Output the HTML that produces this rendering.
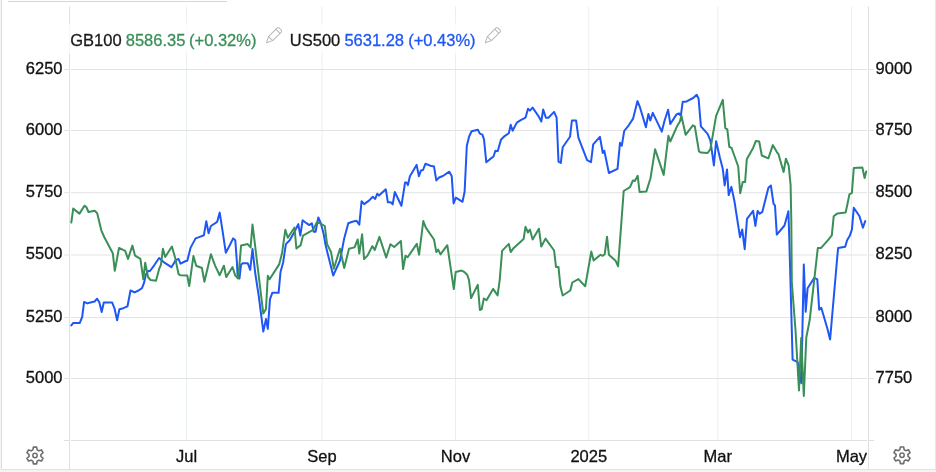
<!DOCTYPE html>
<html><head><meta charset="utf-8"><style>
html,body{-webkit-font-smoothing:antialiased;margin:0;padding:0;width:936px;height:472px;overflow:hidden;background:#f4f4f4;font-family:"Liberation Sans",sans-serif;}
</style></head><body>
<svg width="936" height="472" viewBox="0 0 936 472" style="position:absolute;left:0;top:0">
<rect x="0" y="0" width="936" height="472" fill="#f4f4f4"/>
<rect x="1" y="0" width="935" height="470" fill="#ffffff"/>
<rect x="1" y="0" width="1" height="470" fill="#dcdcdc"/>
<rect x="935" y="0" width="1" height="470" fill="#e6e6e6"/>
<rect x="1" y="469" width="935" height="1" fill="#e2e2e2"/>
<rect x="8" y="1" width="219" height="1" fill="#d4d6d8"/>
<rect x="186" y="6.5" width="1" height="433.5" fill="#e9f0f4"/>
<rect x="321.5" y="6.5" width="1" height="433.5" fill="#e9f0f4"/>
<rect x="455" y="6.5" width="1" height="433.5" fill="#e9f0f4"/>
<rect x="588.3" y="6.5" width="1" height="433.5" fill="#e9f0f4"/>
<rect x="717.3" y="6.5" width="1" height="433.5" fill="#e9f0f4"/>
<rect x="851" y="6.5" width="1" height="433.5" fill="#e9f0f4"/>
<rect x="71" y="69" width="796" height="1" fill="#e3e3e3"/>
<rect x="64" y="69" width="5" height="1" fill="#e3e3e3"/>
<rect x="869" y="69" width="5" height="1" fill="#e3e3e3"/>
<rect x="71" y="130" width="796" height="1" fill="#e3e3e3"/>
<rect x="64" y="130" width="5" height="1" fill="#e3e3e3"/>
<rect x="869" y="130" width="5" height="1" fill="#e3e3e3"/>
<rect x="71" y="192.2" width="796" height="1" fill="#e3e3e3"/>
<rect x="64" y="192.2" width="5" height="1" fill="#e3e3e3"/>
<rect x="869" y="192.2" width="5" height="1" fill="#e3e3e3"/>
<rect x="71" y="254.5" width="796" height="1" fill="#e3e3e3"/>
<rect x="64" y="254.5" width="5" height="1" fill="#e3e3e3"/>
<rect x="869" y="254.5" width="5" height="1" fill="#e3e3e3"/>
<rect x="71" y="317" width="796" height="1" fill="#e3e3e3"/>
<rect x="64" y="317" width="5" height="1" fill="#e3e3e3"/>
<rect x="869" y="317" width="5" height="1" fill="#e3e3e3"/>
<rect x="71" y="378" width="796" height="1" fill="#e3e3e3"/>
<rect x="64" y="378" width="5" height="1" fill="#e3e3e3"/>
<rect x="869" y="378" width="5" height="1" fill="#e3e3e3"/>
<rect x="69" y="6.5" width="1" height="463.5" fill="#e0e0e0"/>
<rect x="868" y="6.5" width="1" height="463.5" fill="#e0e0e0"/>
<rect x="64" y="440" width="5" height="1" fill="#e0e0e0"/>
<rect x="71" y="440" width="796" height="1" fill="#e0e0e0"/>
<rect x="869" y="440" width="5" height="1" fill="#e0e0e0"/>
<polyline points="71.3,325.4 73.3,322.9 79.7,323.1 82.2,316.8 84.1,301.9 87.4,303.4 90.4,302.5 94.6,301.5 97.1,298.7 99.4,302.5 101.7,312 103.8,302.5 112.2,302.5 114.7,309.2 117.1,320.2 119.4,309.2 123.3,308.2 127.5,306.3 130.5,290.5 134.7,292.4 138.5,290.5 142,288.2 144.2,282.4 145.8,274.8 148.1,271 150,271 154.2,265.3 159.1,258 163.3,261.8 171.4,267.2 175.7,260.2 178.6,259 180.5,263.7 185.8,261 187.3,260.7 190.5,247.9 195.6,238.4 199.1,237.1 203.9,235.2 206.3,221.2 208.6,233.2 210.9,226 217.2,221.8 219.7,212.6 222.4,229.8 225.8,252.7 230,244.7 233.1,238.4 235.3,240.3 236.9,262.3 237.6,275.6 239.5,278.5 241.1,264.5 243,263.2 247.7,263.2 250.2,269.9 252.5,248.9 255.2,273 258.8,296.4 263.3,331.6 266,319 267.8,328.9 270,299.1 272.3,292.8 278.6,292.8 280.5,272.1 283.2,262.2 284,256.5 285.9,244.1 289.7,240.3 294.5,231.7 298.3,224.1 300.3,235.6 302.6,220.3 306.5,223.2 309.3,225.1 311.8,223.2 313.7,231.8 315.6,231.8 318.3,217.4 320.8,223.2 323.6,233.7 325.6,245.3 333.2,275.6 340,260.5 344.2,238.4 348.3,223.3 352.3,221.8 356.6,220.8 359.3,224.6 361.6,201.2 364.1,204.1 369,200.6 372.8,196.8 375.2,198.9 377.2,193.8 379,195.5 385.8,189.3 387.9,202.3 390.7,202.3 392.7,204.4 394.8,192 401.4,205.8 405.1,182.4 406.5,182.4 407.9,185.1 409.9,176.2 416.6,164.9 418.9,176.2 421,170.4 423,170 425.4,163.8 430.5,165.7 434,166.5 436.3,180.4 439.1,177.5 442.9,176 449.3,171.7 451.7,175.9 453.6,203.4 455.9,197.6 462.5,201.8 464.6,191.8 466.8,146 469.1,136.5 471.6,131.3 477.9,129.8 479.8,133.6 482.4,134.6 484,139.4 486.3,162.3 489.7,159.4 493.5,156.5 495.4,150.8 497.7,151.2 501.1,139.4 504.6,136.1 508.8,133.2 510.7,124.7 512.6,130.8 516.8,122.6 520.7,120.2 525.5,117.7 528,108.7 529.9,110.6 532.6,107.6 538.9,116.7 541.3,121.5 543.2,109.5 545.9,117.7 548.4,117.7 554.1,111.9 556.6,117.7 558.5,161.6 560.8,162.9 562.7,147.3 570,136.8 571.9,120.5 576.1,120.5 578.4,137.7 587.1,160.2 591,162.1 593.2,144.4 599.9,136.8 602.8,153 604.3,150.7 608.9,173 617.5,168.8 620,142.8 621.8,145.7 624.2,131 628.7,125.3 633.1,118.6 637.5,101.1 639.8,106.8 645.9,127.2 648.4,113.9 650.3,120.5 652.8,112.9 661.8,131.6 664.6,120.5 668.1,109.7 670.3,124 676.5,114.4 678.9,113.3 680.8,115.8 682.7,101.8 685.6,101.8 693.2,98 696.7,94.8 698.6,98.6 700.9,126.3 707.6,133.9 710.4,140.6 713.9,165.4 716.1,141.2 719.8,157.3 722.8,169.1 724.7,185.4 727,169.4 728.7,195.1 731.4,186.9 734.4,201 740,237.2 742.2,229.5 744.7,249.2 747,218.9 753.1,210.9 755.4,225.9 757.6,210.9 759.7,213.8 762.3,211.9 768.4,187.8 770.9,185.5 773.5,203.7 775,205.6 776.8,234.6 784.5,225.5 788.4,211.3 789.3,239 792.6,359.7 797.7,362.2 801.3,383.2 803.8,264.6 805.7,311.7 807.6,288.2 814.3,277.8 817.3,279.3 819.2,309.7 821.3,307.8 827.7,329.7 830.1,339.5 837,260 838.1,248.1 845.2,246.8 847.1,240.2 849.9,235.4 851.9,229.7 853.8,207.7 859.5,216.3 862.9,227.8 865.2,221.1" fill="none" stroke="#1f57f5" stroke-width="2" stroke-linejoin="round" stroke-linecap="round"/>
<polyline points="71.3,222.6 73.2,208.6 79.5,213.6 84.4,205.7 86.3,207 88.5,212 94.7,210.8 97.2,213.2 101.3,230.3 104.2,237 112.8,253.2 114.8,270.8 119,247.9 125.2,250.9 128,258.9 132.4,245.6 135.1,255.7 140.4,258.9 143.3,279.3 145.2,262.8 148,277 150.5,280 156,280.7 159.3,268.5 161,264.7 162.9,248.8 165.2,257 171.9,246.5 175.2,258 178.6,274.2 180.5,275.3 187.3,275.6 189.2,286.1 193.4,256.1 196.2,265.7 201.9,268 204.4,281.7 210.9,254.2 215.3,266.1 219.7,275.2 223.9,265.7 226.2,277.1 232.5,267 235.3,275.6 238.2,278.5 241.1,245.5 247.7,244.1 250.6,247.4 252.5,224.5 254.8,243.2 257.3,264.2 263.3,313.6 266,309 267.8,275.7 269.6,279.3 279.3,264.1 282.1,252.7 285.3,229.8 287.8,237.8 294.5,227.5 296.4,248.5 300.7,245.1 303,235.6 306.5,233.7 313.1,229.8 316.9,222.2 319.8,223.2 324.8,226 327,243.9 331.1,252.2 333.8,268.7 340,248.7 344.2,268 349,248.7 354.5,247.4 357.7,239.5 359.3,253.6 362.1,234.3 364.1,259.1 367.5,255.6 372.3,246.1 374.8,249.9 379.4,236.9 386.2,257.5 390.4,244.2 394.2,247 400.9,241 403.1,269.1 405.5,255.8 407.6,257.3 416.8,243.9 419.1,254.7 423.3,221 425.8,227.6 434,239.5 436.3,252.1 438.2,249.6 440.5,254.4 447.3,245.2 453.8,289.1 455.7,271.9 461.5,270.6 463.7,271.6 467.2,274.8 469,280.1 471.1,298.1 477.8,284.8 479.9,310 481.7,309.2 483.8,298.6 486.5,300.2 493.1,288.9 497.6,295.4 499.7,280.1 502.1,250.9 508.8,243.9 510.7,252.1 513.5,248.2 519.8,242.5 523.6,239 525.5,226.8 528,232.5 529.9,229.5 532.6,239.6 538.9,228.7 541.3,246.6 545.5,238.6 554.1,250.5 556,266.9 558.5,266.9 560.4,286.3 562.7,295.5 570.3,290.5 572.3,282.5 578.4,279.1 585.2,286.3 591.3,251.6 593.6,260.6 600.5,254.8 602.8,255.8 604.7,254.3 607,236.7 608.9,254.8 615.8,261.1 618.1,266.3 623.7,191 630,187.2 632.9,180.5 634.8,180.9 637.7,175.8 639.6,192 646.3,191.6 650.5,178.2 655.1,149.2 663.7,174.9 668.4,135.8 670.3,141.5 677,126.3 679.9,121.5 681.4,115.8 685.6,134.8 692.9,125.3 694.8,126.3 699,151.5 700.9,152.6 707.6,153 710.4,149.2 716.1,115.8 722.8,99.9 725.3,128.2 727.3,129.4 729.3,146.8 731.6,148 738.2,166.5 740.2,193.2 742.7,182.1 745.1,182.1 746.8,159.3 753.1,147.9 755.9,140.9 759.2,141.5 761.8,155.5 768.4,158.3 772.8,145.1 777,152.3 778.5,154.2 783.6,172 785.9,158.7 788.7,165.7 790.6,185 791.3,220 791.8,282 795.5,330 799,390.5 801.2,338 803.8,396 806.3,337.5 809.7,320 817.8,248.1 820.9,248.1 828,240.2 831.8,235.4 833.7,216.3 837.5,213.4 845.6,212.5 847.1,205.8 849.4,194.4 851.9,192.8 853.8,168 862.4,167.6 864.6,178.1 866.2,171.5" fill="none" stroke="#3a8f58" stroke-width="2" stroke-linejoin="round" stroke-linecap="round"/>
<rect x="64" y="23.5" width="444" height="30" fill="#ffffff" fill-opacity="0.75"/>
<filter id="nf"><feOffset dx="0" dy="0"/></filter><g filter="url(#nf)">
<text x="62.5" y="73.7" font-family="Liberation Sans, sans-serif" font-size="16.5" stroke-width="0.3" fill="#111111" stroke="#111111" text-anchor="end">6250</text>
<text x="62.5" y="134.7" font-family="Liberation Sans, sans-serif" font-size="16.5" stroke-width="0.3" fill="#111111" stroke="#111111" text-anchor="end">6000</text>
<text x="62.5" y="196.89999999999998" font-family="Liberation Sans, sans-serif" font-size="16.5" stroke-width="0.3" fill="#111111" stroke="#111111" text-anchor="end">5750</text>
<text x="62.5" y="259.2" font-family="Liberation Sans, sans-serif" font-size="16.5" stroke-width="0.3" fill="#111111" stroke="#111111" text-anchor="end">5500</text>
<text x="62.5" y="321.7" font-family="Liberation Sans, sans-serif" font-size="16.5" stroke-width="0.3" fill="#111111" stroke="#111111" text-anchor="end">5250</text>
<text x="62.5" y="382.7" font-family="Liberation Sans, sans-serif" font-size="16.5" stroke-width="0.3" fill="#111111" stroke="#111111" text-anchor="end">5000</text>
<text x="875.6" y="73.7" font-family="Liberation Sans, sans-serif" font-size="16.5" stroke-width="0.3" fill="#111111" stroke="#111111">9000</text>
<text x="875.6" y="134.7" font-family="Liberation Sans, sans-serif" font-size="16.5" stroke-width="0.3" fill="#111111" stroke="#111111">8750</text>
<text x="875.6" y="196.89999999999998" font-family="Liberation Sans, sans-serif" font-size="16.5" stroke-width="0.3" fill="#111111" stroke="#111111">8500</text>
<text x="875.6" y="259.2" font-family="Liberation Sans, sans-serif" font-size="16.5" stroke-width="0.3" fill="#111111" stroke="#111111">8250</text>
<text x="875.6" y="321.7" font-family="Liberation Sans, sans-serif" font-size="16.5" stroke-width="0.3" fill="#111111" stroke="#111111">8000</text>
<text x="875.6" y="382.7" font-family="Liberation Sans, sans-serif" font-size="16.5" stroke-width="0.3" fill="#111111" stroke="#111111">7750</text>
<text x="186.5" y="462" font-family="Liberation Sans, sans-serif" font-size="16.5" stroke-width="0.3" fill="#111111" stroke="#111111" text-anchor="middle">Jul</text>
<text x="322.0" y="462" font-family="Liberation Sans, sans-serif" font-size="16.5" stroke-width="0.3" fill="#111111" stroke="#111111" text-anchor="middle">Sep</text>
<text x="455.5" y="462" font-family="Liberation Sans, sans-serif" font-size="16.5" stroke-width="0.3" fill="#111111" stroke="#111111" text-anchor="middle">Nov</text>
<text x="588.8" y="462" font-family="Liberation Sans, sans-serif" font-size="16.5" stroke-width="0.3" fill="#111111" stroke="#111111" text-anchor="middle">2025</text>
<text x="717.8" y="462" font-family="Liberation Sans, sans-serif" font-size="16.5" stroke-width="0.3" fill="#111111" stroke="#111111" text-anchor="middle">Mar</text>
<text x="851.5" y="462" font-family="Liberation Sans, sans-serif" font-size="16.5" stroke-width="0.3" fill="#111111" stroke="#111111" text-anchor="middle">May</text>
<text x="70.24" y="45.6" font-family="Liberation Sans, sans-serif" font-size="16.5" stroke-width="0.3" fill="#1a1a1a" stroke="#1a1a1a">GB100</text>
<text x="125.74" y="45.6" font-family="Liberation Sans, sans-serif" font-size="16.5" stroke-width="0.3" fill="#3a8f58" stroke="#3a8f58">8586.35</text>
<text x="189.0" y="45.6" font-family="Liberation Sans, sans-serif" font-size="16.5" stroke-width="0.3" fill="#3a8f58" stroke="#3a8f58">(+0.32%)</text>
<text x="289.8" y="45.6" font-family="Liberation Sans, sans-serif" font-size="16.5" stroke-width="0.3" fill="#1a1a1a" stroke="#1a1a1a">US500</text>
<text x="344.4" y="45.6" font-family="Liberation Sans, sans-serif" font-size="16.5" stroke-width="0.3" fill="#1f57f5" stroke="#1f57f5">5631.28</text>
<text x="408.2" y="45.6" font-family="Liberation Sans, sans-serif" font-size="16.5" stroke-width="0.3" fill="#1f57f5" stroke="#1f57f5">(+0.43%)</text>
</g>
<g transform="translate(266.5,42.7) rotate(-45)" fill="none" stroke="#b8b8b8" stroke-width="1" stroke-linejoin="round"><path d="M0,0 L5.8,-2.9 L18,-2.9 Q19.3,-2.9 19.3,-1.6 L19.3,1.6 Q19.3,2.9 18,2.9 L5.8,2.9 Z"/><path d="M16.2,-2.9 L16.2,2.9"/><path d="M5.8,-2.9 L5.8,2.9"/></g>
<g transform="translate(485.3,42.7) rotate(-45)" fill="none" stroke="#b8b8b8" stroke-width="1" stroke-linejoin="round"><path d="M0,0 L5.8,-2.9 L18,-2.9 Q19.3,-2.9 19.3,-1.6 L19.3,1.6 Q19.3,2.9 18,2.9 L5.8,2.9 Z"/><path d="M16.2,-2.9 L16.2,2.9"/><path d="M5.8,-2.9 L5.8,2.9"/></g>
<path d="M37.15,449.90 L36.62,447.16 L33.38,447.16 L32.85,449.90 L31.22,450.84 L28.58,449.92 L26.96,452.73 L29.07,454.56 L29.07,456.44 L26.96,458.27 L28.58,461.08 L31.22,460.16 L32.85,461.10 L33.38,463.84 L36.62,463.84 L37.15,461.10 L38.78,460.16 L41.42,461.08 L43.04,458.27 L40.93,456.44 L40.93,454.56 L43.04,452.73 L41.42,449.92 L38.78,450.84Z" fill="none" stroke="#6e6e6e" stroke-width="1.6" stroke-linejoin="round"/><circle cx="35" cy="455.5" r="2.2" fill="none" stroke="#6e6e6e" stroke-width="1.5"/>
<path d="M904.15,449.70 L903.62,446.96 L900.38,446.96 L899.85,449.70 L898.22,450.64 L895.58,449.72 L893.96,452.53 L896.07,454.36 L896.07,456.24 L893.96,458.07 L895.58,460.88 L898.22,459.96 L899.85,460.90 L900.38,463.64 L903.62,463.64 L904.15,460.90 L905.78,459.96 L908.42,460.88 L910.04,458.07 L907.93,456.24 L907.93,454.36 L910.04,452.53 L908.42,449.72 L905.78,450.64Z" fill="none" stroke="#6e6e6e" stroke-width="1.6" stroke-linejoin="round"/><circle cx="902" cy="455.3" r="2.2" fill="none" stroke="#6e6e6e" stroke-width="1.5"/>
</svg>
</body></html>
